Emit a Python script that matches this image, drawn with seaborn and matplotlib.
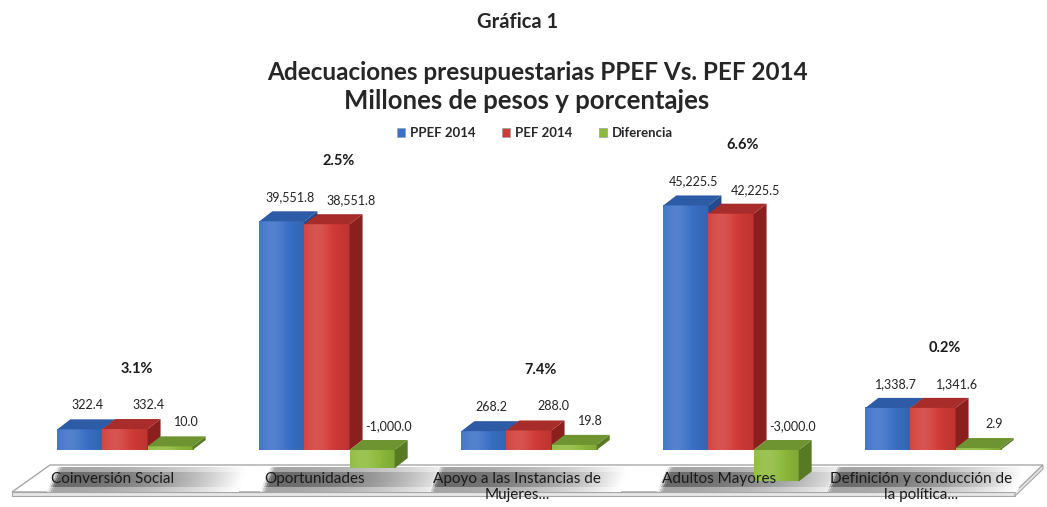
import numpy as np
import pandas as pd
import matplotlib
matplotlib.use("Agg")
import matplotlib.pyplot as plt
import seaborn as sns
from matplotlib.colors import to_rgb
from matplotlib.patches import Polygon, Patch
from matplotlib.collections import PolyCollection
from matplotlib.transforms import IdentityTransform

# data
categories = [
    "Coinversión Social",
    "Oportunidades",
    "Apoyo a las Instancias de\nMujeres...",
    "Adultos Mayores",
    "Definición y conducción de\nla política...",
]
series = ["PPEF 2014", "PEF 2014", "Diferencia"]
ppef = [322.4, 39551.8, 268.2, 45225.5, 1338.7]
pef = [332.4, 38551.8, 288.0, 42225.5, 1341.6]
diferencia = [10.0, -1000.0, 19.8, -3000.0, 2.9]
porcentajes = ["3.1%", "2.5%", "7.4%", "6.6%", "0.2%"]

# style
FRONT = ["#3a70c6", "#d23b37", "#8dbb3b"]
TOP = ["#2d5ba6", "#a82c29", "#6d9430"]
SIDE = ["#224a8c", "#8a1f1d", "#587a24"]
LABEL_DX = [8, 24, 16]
W, H = 1047, 507
PX = 1.15          # pixels per sqrt-unit
DX, DY = 13, 10    # depth of the 3d faces

sns.set_theme(style="white")
plt.rcParams["font.family"] = ["Lato", "DejaVu Sans"]


def fwd(v):
    v = np.asarray(v, dtype=float)
    return np.where(v >= 0, np.sqrt(np.abs(v)), -0.5 * np.sqrt(np.abs(v)))


def inv(u):
    u = np.asarray(u, dtype=float)
    return np.where(u >= 0, u ** 2, -(2 * u) ** 2)


def face_gradient(color, n=60):
    # horizontal shading of a front face, lighter left of centre
    base = np.array(to_rgb(color))
    t = np.linspace(0, 1, n)
    light = 0.14 * np.exp(-((t - 0.3) / 0.3) ** 2) - 0.10 * t ** 2
    rgb = np.where(light[:, None] > 0,
                   base + (1 - base) * light[:, None],
                   base * (1 + light[:, None]))
    return np.clip(rgb, 0, 1)[None, :, :]


def shadow_strips(xl, width=190, y0=467, y1=492, slant=10, nx=95, ny=5):
    # slanted gray smear, dark at the left, fading to white on the right
    verts, cols = [], []
    dw = width / nx
    dh = (y1 - y0) / ny
    for r in range(ny):
        ya, yb = y0 + r * dh, y0 + (r + 1) * dh
        sa = slant * (1 - (ya - y0) / (y1 - y0))
        sb = slant * (1 - (yb - y0) / (y1 - y0))
        sv = (r + 0.5) / ny
        vprof = 1 - abs(2 * sv - 1) ** 4
        for i in range(nx):
            t = (i + 0.5) / nx
            prof = min(t / 0.03, 1) * (1 - t ** 2.0)
            g = 1 - 0.6 * prof * vprof
            xa = xl + i * dw
            verts.append([(xa + sa, ya), (xa + dw + 0.6 + sa, ya),
                          (xa + dw + 0.6 + sb, yb), (xa + sb, yb)])
            cols.append((g, g, g))
    return verts, cols


df = pd.DataFrame({
    "categoria": categories * 3,
    "serie": np.repeat(series, len(categories)),
    "valor": ppef + pef + diferencia,
})

fig = plt.figure(figsize=(W / 100, H / 100), dpi=100)

# background axes in pixel coordinates (floor band)
bg = fig.add_axes([0, 0, 1, 1], zorder=0)
bg.set_xlim(0, W)
bg.set_ylim(H, 0)
bg.axis("off")

ax = fig.add_axes([24 / W, (H - 495) / H, 1010 / W, 345 / H], zorder=1)
ax.set_facecolor("none")
sns.barplot(
    data=df, x="categoria", y="valor", hue="serie",
    order=categories, hue_order=series, palette=FRONT,
    width=0.67, saturation=1, linewidth=0, legend=False, ax=ax,
)
ax.set_yscale("function", functions=(fwd, inv))
XLIM = (-0.5, 4.5)
YLIM = (float(inv(-45 / PX)), float(inv(300 / PX)))
ax.set_xlim(*XLIM)
ax.set_ylim(*YLIM)
ax.axis("off")

# floor band
bg.add_patch(Polygon([(50, 465), (1043, 465), (1015, 492), (12, 492)], closed=True,
                     facecolor="white", edgecolor="#a6a6a6", lw=1.0, zorder=1))
bg.add_patch(Polygon([(12, 492), (1015, 492), (1015, 496), (12, 496)], closed=True,
                     facecolor="#e6e6e6", edgecolor="#a6a6a6", lw=0.8, zorder=1))
bg.add_patch(Polygon([(1015, 492), (1043, 465), (1043, 469), (1015, 496)], closed=True,
                     facecolor="#e6e6e6", edgecolor="#a6a6a6", lw=0.8, zorder=1))

# category labels on the floor
cat_texts = []
for g, cat in enumerate(categories):
    txt = ax.annotate(cat, xy=(g, 0), xytext=(-12, -22), textcoords="offset pixels",
                      ha="center", va="top", fontsize=11, color="#1a1a1a",
                      linespacing=1.2, annotation_clip=False, zorder=10)
    cat_texts.append(txt)

fig.canvas.draw()
renderer = fig.canvas.get_renderer()

# gray shadows behind category labels
for txt in cat_texts:
    bb = txt.get_window_extent(renderer)
    verts, cols = shadow_strips(bb.x0 - 4)
    bg.add_collection(PolyCollection(verts, facecolors=cols, edgecolors="none",
                                     linewidths=0, antialiased=False, zorder=2))
bg.set_xlim(0, W)
bg.set_ylim(H, 0)

# 3d faces
for si, cont in enumerate(ax.containers):
    for g, bar in enumerate(cont):
        x0 = bar.get_x()
        x1 = x0 + bar.get_width()
        v = bar.get_height()
        X0, Y0 = ax.transData.transform((x0, 0))
        X1, Y1 = ax.transData.transform((x1, v))
        ytop, ybot = max(Y0, Y1), min(Y0, Y1)
        bar.set_zorder(2 + 2 * si)
        im = ax.imshow(face_gradient(FRONT[si]), extent=(X0, X1, ybot, ytop),
                       transform=IdentityTransform(), aspect="auto",
                       interpolation="bilinear", zorder=2.5 + 2 * si)
        im.set_clip_on(False)
        top = [(X0, ytop), (X1, ytop), (X1 + DX, ytop + DY), (X0 + DX, ytop + DY)]
        side = [(X1, ybot), (X1, ytop), (X1 + DX, ytop + DY), (X1 + DX, ybot + DY)]
        for verts, col in ((side, SIDE[si]), (top, TOP[si])):
            ax.add_patch(Polygon(verts, closed=True, transform=IdentityTransform(),
                                 facecolor=col, edgecolor="none", clip_on=False,
                                 zorder=3 + 2 * si))
        ax.annotate(f"{v:,.1f}", xy=((x0 + x1) / 2, max(v, 0)),
                    xytext=(LABEL_DX[si], 24), textcoords="offset pixels",
                    ha="center", va="center", fontsize=9, color="#222222",
                    annotation_clip=False, zorder=10)
ax.set_xlim(*XLIM)
ax.set_ylim(*YLIM)

# percentages above each group
for g, pct in enumerate(porcentajes):
    top_v = max(ppef[g], pef[g], diferencia[g])
    ax.annotate(pct, xy=(g, top_v), xytext=(12, 60), textcoords="offset pixels",
                ha="center", va="center", fontsize=10.5, fontweight="bold",
                color="#1a1a1a", annotation_clip=False, zorder=10)

# titles
fig.text(518 / W, 1 - 22 / H, "Gráfica 1", ha="center", va="center",
         fontsize=14.5, fontweight="bold")
fig.text(537 / W, 1 - 72 / H, "Adecuaciones presupuestarias PPEF Vs. PEF 2014",
         ha="center", va="center", fontsize=17.5, fontweight="bold")
fig.text(527 / W, 1 - 101 / H, "Millones de pesos y porcentajes",
         ha="center", va="center", fontsize=18.5, fontweight="bold")

handles = [Patch(facecolor=c, edgecolor="#9aa0a8", lw=0.5) for c in FRONT]
fig.legend(handles, series, loc="center", bbox_to_anchor=(535 / W, 1 - 133 / H),
           ncol=3, frameon=False, handlelength=0.6, handleheight=0.6,
           handletextpad=0.4, columnspacing=2.0,
           prop={"weight": "bold", "size": 9.5})

fig.savefig("out.png", dpi=100)
